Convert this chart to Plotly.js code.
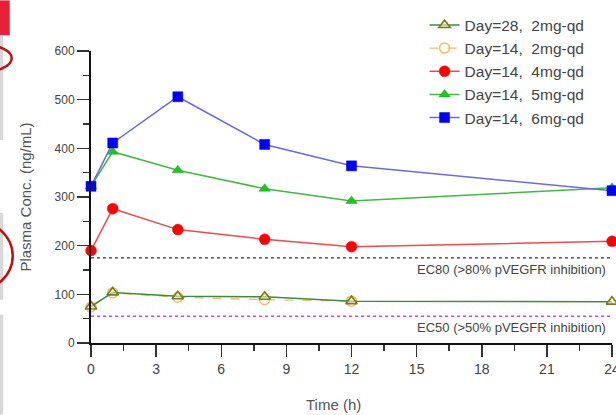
<!DOCTYPE html>
<html><head><meta charset="utf-8">
<script src="https://cdn.plot.ly/plotly-3.0.1.min.js"></script>
<style>html,body{margin:0;padding:0;background:#fff}#chart{width:616px;height:415px}</style>
</head><body><div id="chart"></div>
<script>
const timeH = [0, 1, 4, 8, 12, 24];
const timeD14_2 = [0, 1, 4, 8, 12];
const day28_2mg = [75, 104, 96, 95, 86, 85];
const day14_2mg = [74, 103, 94, 89, 86];
const day14_4mg = [190, 276, 233, 213, 198, 209];
const day14_5mg = [322, 393, 355, 317, 292, 319];
const day14_6mg = [322, 411, 506, 408, 364, 313];
const ec80 = 175, ec50 = 55;
const xTicks = [0, 3, 6, 9, 12, 15, 18, 21, 24];
const yTicks = [0, 100, 200, 300, 400, 500, 600];
const names = ["Day=28,\u00a0\u00a02mg-qd", "Day=14,\u00a0\u00a02mg-qd", "Day=14,\u00a0\u00a04mg-qd", "Day=14,\u00a0\u00a05mg-qd", "Day=14,\u00a0\u00a06mg-qd"];

const W = 616, H = 415, L = 91.3, R = 612.5, T = 50.7, B = 343.3;
const px = v => (v - L) / (R - L);
const py = v => (B - v) / (B - T);
const FONT = 'Liberation Sans, Arial, sans-serif';

const traces = [
  {x: timeD14_2, y: day14_2mg, name: names[1], legendrank: 2, legendgroup: 'b', mode: 'lines+markers',
   line: {color: '#f3bd6a', width: 1.3, dash: 'dash'},
   marker: {symbol: 'circle-open', size: 10, color: '#f3bd6a', line: {width: 1.5}}},
  {x: timeH, y: day28_2mg, name: names[0], legendrank: 1, legendgroup: 'a', mode: 'lines+markers',
   line: {color: '#3f8a3f', width: 1.5},
   marker: {symbol: 'triangle-up', size: 10, color: 'rgba(240,240,200,0.6)', line: {color: '#7a7a1e', width: 1.6}}},
  {x: timeH, y: day14_4mg, name: names[2], legendrank: 3, legendgroup: 'c', mode: 'lines+markers',
   line: {color: '#f04a4a', width: 1.5},
   marker: {symbol: 'circle', size: 11, color: '#ff0000', line: {color: '#e03030', width: 0.5}}},
  {x: timeH, y: day14_5mg, name: names[3], legendrank: 4, legendgroup: 'd', mode: 'lines+markers',
   line: {color: '#40bb40', width: 1.5},
   marker: {symbol: 'triangle-up', size: 10, color: '#1fc41f', line: {color: '#2aa52a', width: 0.5}}},
  {x: timeH, y: day14_6mg, name: names[4], legendrank: 5, legendgroup: 'e', mode: 'lines+markers',
   line: {color: '#6a6ae8', width: 1.5},
   marker: {symbol: 'square', size: 10, color: '#0000ff', line: {color: '#0000cc', width: 0.5}}}
];
traces.forEach(t => t.cliponaxis = false);

const axisCommon = {
  showgrid: false, zeroline: false, showline: true, linecolor: '#111', linewidth: 2,
  ticks: 'outside', ticklen: 12, tickwidth: 1.5, tickcolor: '#333',
  ticklabeloverflow: 'allow',
  tickfont: {family: FONT, size: 12, color: '#444'}
};

const layout = {
  width: W, height: H,
  margin: {l: L, r: W - R, t: T, b: H - B, pad: 0},
  paper_bgcolor: '#fff', plot_bgcolor: '#fff',
  font: {family: FONT, color: '#444'},
  xaxis: Object.assign({}, axisCommon, {
    range: [0, 24], tickmode: 'array', tickvals: xTicks, ticktext: xTicks.map(String),
    minor: {dtick: 1.5, tick0: 0, ticks: 'outside', ticklen: 6, tickwidth: 1.5, tickcolor: '#333'},
    tickfont: {family: FONT, size: 14, color: '#444'}
  }),
  yaxis: Object.assign({}, axisCommon, {
    range: [0, 600], tickmode: 'array', tickvals: yTicks, ticktext: yTicks.map(String),
    minor: {dtick: 50, tick0: 0, ticks: 'outside', ticklen: 6, tickwidth: 1.5, tickcolor: '#333'},
    title: {text: 'Plasma Conc. (ng/mL)', standoff: 19, font: {family: FONT, size: 15, color: '#555'}}
  }),
  showlegend: true,
  legend: {
    x: px(425), xanchor: 'left', y: py(8), yanchor: 'top',
    bgcolor: 'rgba(0,0,0,0)', tracegroupgap: 0, itemwidth: 30,
    font: {family: FONT, size: 15.5, color: '#444'}
  },
  shapes: [
    {type: 'line', xref: 'x', yref: 'y', x0: 0, x1: 24, y0: ec80, y1: ec80, line: {color: '#333', width: 1.3, dash: 'dot'}},
    {type: 'line', xref: 'x', yref: 'y', x0: 0, x1: 24, y0: ec50, y1: ec50, line: {color: '#e040e0', width: 1.3, dash: 'dot'}},
    {type: 'rect', xref: 'paper', yref: 'paper', x0: px(0), x1: px(10), y0: py(0), y1: py(35), fillcolor: '#e8203a', line: {width: 0}, layer: 'above'},
    {type: 'rect', xref: 'paper', yref: 'paper', x0: px(0), x1: px(3.5), y0: py(35), y1: py(140), fillcolor: '#d8d8d8', line: {width: 0}},
    {type: 'rect', xref: 'paper', yref: 'paper', x0: px(0), x1: px(3.5), y0: py(213), y1: py(300), fillcolor: '#d8d8d8', line: {width: 0}},
    {type: 'rect', xref: 'paper', yref: 'paper', x0: px(0), x1: px(3.5), y0: py(315), y1: py(415), fillcolor: '#d8d8d8', line: {width: 0}},
    {type: 'circle', xref: 'paper', yref: 'paper', x0: px(-50), x1: px(12), y0: py(44), y1: py(72), line: {color: '#c01010', width: 2.5}},
    {type: 'circle', xref: 'paper', yref: 'paper', x0: px(-90), x1: px(13), y0: py(216), y1: py(296), line: {color: '#c01010', width: 2.5}}
  ],
  annotations: [
    {xref: 'x', yref: 'y', x: 24, y: ec80, xanchor: 'right', yanchor: 'top', yshift: -2, xshift: -4, showarrow: false,
     text: 'EC80 (>80% pVEGFR inhibition)', font: {family: FONT, size: 13, color: '#444'}},
    {xref: 'x', yref: 'y', x: 24, y: ec50, xanchor: 'right', yanchor: 'top', yshift: -2, xshift: -4, showarrow: false,
     text: 'EC50 (>50% pVEGFR inhibition)', font: {family: FONT, size: 13, color: '#444'}},
    {xref: 'paper', yref: 'paper', x: px(334), y: py(405), xanchor: 'center', yanchor: 'middle', showarrow: false,
     text: 'Time (h)', font: {family: FONT, size: 15, color: '#555'}}
  ]
};

Plotly.newPlot('chart', traces, layout, {staticPlot: true, displayModeBar: false});
</script></body></html>
